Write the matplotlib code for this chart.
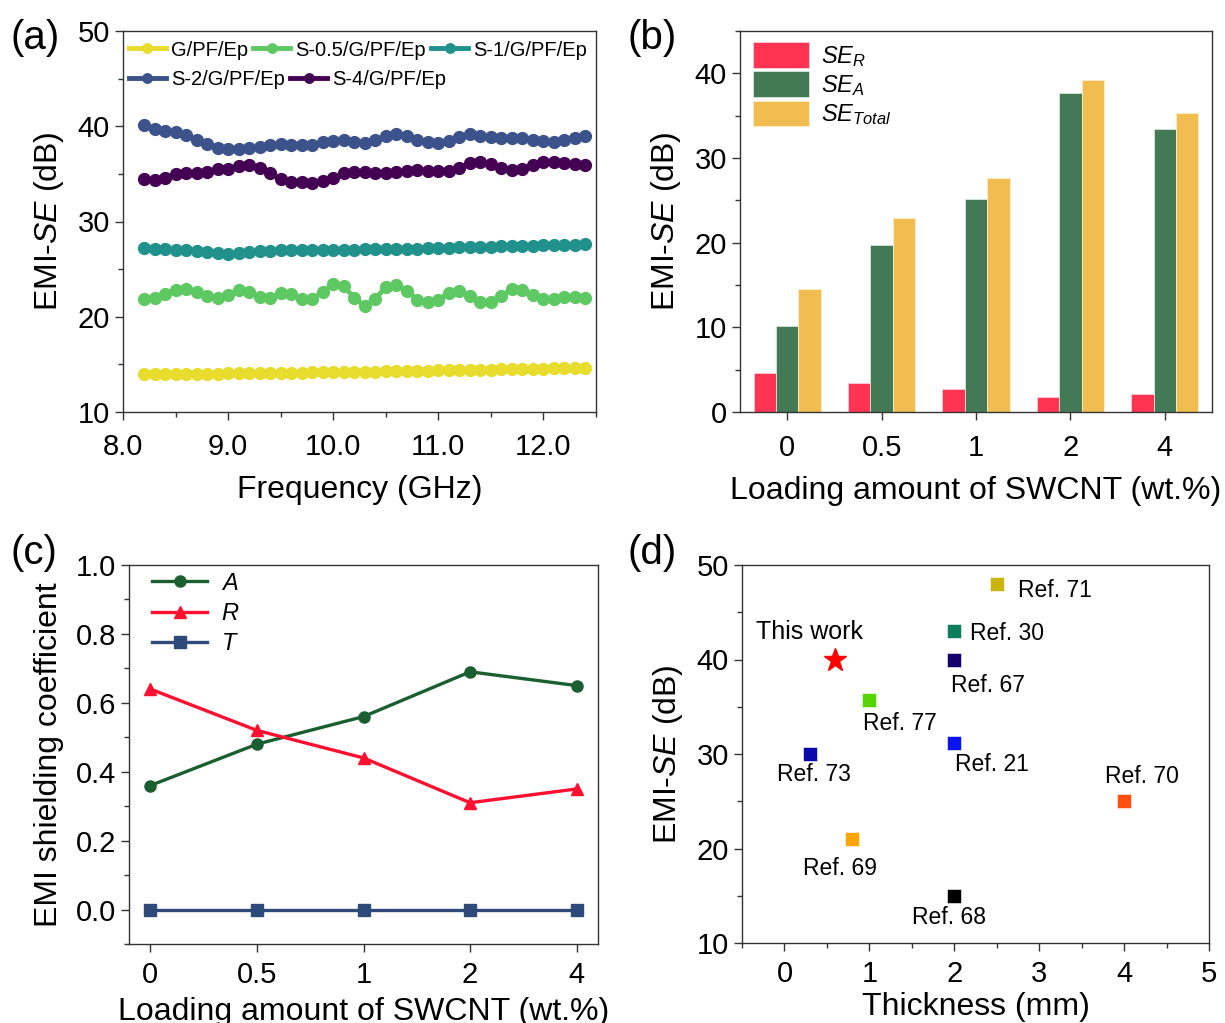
import numpy as np
import matplotlib
matplotlib.use('Agg')
import matplotlib.pyplot as plt
from matplotlib.ticker import MultipleLocator, FormatStrFormatter

plt.rcParams['font.family'] = ['Liberation Sans', 'DejaVu Sans']
plt.rcParams['mathtext.fontset'] = 'custom'
plt.rcParams['mathtext.rm'] = 'Liberation Sans'
plt.rcParams['mathtext.it'] = 'Liberation Sans:italic'

# ---- (a) EMI SE vs frequency ----
freq = np.linspace(8.2, 12.4, 43)
se_g = [13.95, 13.96, 13.97, 13.98, 13.99, 14.00, 14.02, 14.04, 14.05, 14.06,
        14.07, 14.08, 14.10, 14.11, 14.12, 14.14, 14.15, 14.17, 14.19, 14.20,
        14.22, 14.23, 14.25, 14.27, 14.28, 14.30, 14.32, 14.34, 14.36, 14.38,
        14.40, 14.41, 14.43, 14.45, 14.47, 14.49, 14.51, 14.53, 14.55, 14.57,
        14.59, 14.61, 14.62]
se_s05 = [21.9, 22.0, 22.4, 22.85, 22.9, 22.6, 22.2, 21.95, 22.3, 22.85,
          22.6, 22.05, 21.95, 22.45, 22.4, 21.9, 21.9, 22.6, 23.45, 23.2,
          22.0, 21.1, 21.9, 23.1, 23.35, 22.7, 21.8, 21.55, 21.8, 22.5,
          22.75, 22.2, 21.5, 21.6, 22.2, 22.9, 22.85, 22.3, 21.85, 21.9,
          22.1, 22.1, 21.95]
se_s1 = [27.2, 27.15, 27.1, 27.05, 27.0, 26.95, 26.85, 26.7, 26.6, 26.65,
         26.8, 26.9, 26.95, 27.0, 27.05, 27.05, 27.05, 27.05, 27.05, 27.05,
         27.05, 27.1, 27.1, 27.1, 27.1, 27.15, 27.15, 27.2, 27.2, 27.25,
         27.3, 27.3, 27.35, 27.35, 27.4, 27.4, 27.45, 27.45, 27.5, 27.5,
         27.55, 27.55, 27.6]
se_s2 = [40.1, 39.7, 39.5, 39.4, 39.05, 38.55, 38.1, 37.75, 37.6, 37.65,
         37.75, 37.8, 38.0, 38.1, 38.05, 38.0, 38.0, 38.3, 38.45, 38.6,
         38.35, 38.2, 38.55, 38.95, 39.15, 38.95, 38.55, 38.3, 38.2, 38.45,
         38.9, 39.15, 38.95, 38.9, 38.8, 38.8, 38.8, 38.6, 38.45, 38.35,
         38.55, 38.8, 38.95]
se_s4 = [34.5, 34.35, 34.6, 34.95, 35.1, 35.1, 35.2, 35.5, 35.55, 35.8,
         35.9, 35.65, 35.1, 34.45, 34.15, 34.1, 34.0, 34.25, 34.6, 35.05,
         35.2, 35.2, 35.05, 35.1, 35.2, 35.3, 35.4, 35.3, 35.3, 35.3,
         35.65, 36.1, 36.2, 36.0, 35.65, 35.4, 35.55, 35.9, 36.2, 36.25,
         36.1, 36.0, 35.95]
a_names = ['G/PF/Ep', 'S-0.5/G/PF/Ep', 'S-1/G/PF/Ep', 'S-2/G/PF/Ep', 'S-4/G/PF/Ep']
a_colors = ['#e8dc2c', '#5ec962', '#21918c', '#3b528b', '#440154']

# ---- (b) SE components ----
loading = ['0', '0.5', '1', '2', '4']
se_r = [4.6, 3.4, 2.7, 1.8, 2.1]
se_a = [10.2, 19.7, 25.1, 37.7, 33.4]
se_t = [14.5, 22.9, 27.6, 39.2, 35.3]

# ---- (c) coefficients ----
coef_a = [0.36, 0.48, 0.56, 0.69, 0.65]
coef_r = [0.64, 0.52, 0.44, 0.31, 0.35]
coef_t = [0.0, 0.0, 0.0, 0.0, 0.0]

# ---- (d) comparison ----
ref_names = ['Ref. 71', 'Ref. 30', 'Ref. 67', 'Ref. 77', 'Ref. 21',
             'Ref. 73', 'Ref. 70', 'Ref. 69', 'Ref. 68']
ref_thick = [2.5, 2.0, 2.0, 1.0, 2.0, 0.3, 4.0, 0.8, 2.0]
ref_se = [48, 43, 40, 35.7, 31.2, 30, 25, 21, 15]
ref_colors = ['#c8b40a', '#0a7f5a', '#16006e', '#55d400', '#0a14f0',
              '#0a0aaa', '#ff5010', '#ffa500', '#000000']
this_thick, this_se = 0.6, 40
# label offsets in pixels (dx, dy) and alignment
ref_offsets = [(21, -7, 'left'), (16, -2, 'left'), (34, -26, 'center'),
               (31, -23, 'center'), (38, -22, 'center'), (4, -21, 'center'),
               (18, 25, 'center'), (-12, -29, 'center'), (-5, -22, 'center')]

TICK = 21
LAB = 23
SPINE = '#333333'


def style(ax):
    for s in ax.spines.values():
        s.set_color(SPINE)
        s.set_linewidth(1.0)
    ax.tick_params(which='both', direction='out', top=False, right=False,
                   labelsize=TICK, color=SPINE)
    ax.tick_params(which='major', length=6, width=1.0)
    ax.tick_params(which='minor', length=3.5, width=1.0)


fig = plt.figure(figsize=(12.25, 10.23), dpi=100)
W, H = 1225, 1023


def box(l, t, r, b):
    return [l / W, 1 - b / H, (r - l) / W, (b - t) / H]


# (a)
ax = fig.add_axes(box(123, 31, 596, 412))
series = [se_g, se_s05, se_s1, se_s2, se_s4]
handles = []
for y, c, n in zip(series, a_colors, a_names):
    h, = ax.plot(freq, y, '-o', color=c, lw=3.5, ms=8.5, mec=c, label=n)
    handles.append(h)
ax.set_xlim(8.0, 12.5)
ax.set_ylim(10, 50)
ax.xaxis.set_major_locator(MultipleLocator(1))
ax.xaxis.set_minor_locator(MultipleLocator(0.5))
ax.xaxis.set_major_formatter(FormatStrFormatter('%.1f'))
ax.yaxis.set_major_locator(MultipleLocator(10))
ax.yaxis.set_minor_locator(MultipleLocator(5))
style(ax)
ax.tick_params(axis='x', pad=9)
ax.set_xlabel('Frequency (GHz)', fontsize=LAB, labelpad=10)
ax.set_ylabel(r'EMI-$\it{SE}$ (dB)', fontsize=LAB, labelpad=8)
leg_kw = dict(frameon=False, fontsize=14.5, handlelength=1.85, handletextpad=0.25,
              columnspacing=0.25, borderaxespad=0, borderpad=0, markerscale=0.8)
leg1 = ax.legend(handles[:3], a_names[:3], ncol=3, loc='upper left',
                 bbox_to_anchor=(0.012, 0.975), **leg_kw)
ax.add_artist(leg1)
ax.legend(handles[3:], a_names[3:], ncol=2, loc='upper left',
          bbox_to_anchor=(0.012, 0.897), **leg_kw)
fig.text(10 / W, 1 - 38 / H, '(a)', fontsize=29, va='center', ha='left')

# (b)
ax = fig.add_axes(box(740, 31, 1212, 412))
xb = np.arange(len(loading))
bw = 0.237
ax.bar(xb - bw, se_r, bw, color='#ff3352', edgecolor='#ffd0d8', lw=0.6, label=r'$SE_R$')
ax.bar(xb, se_a, bw, color='#437a55', edgecolor='#d8e8dc', lw=0.6, label=r'$SE_A$')
ax.bar(xb + bw, se_t, bw, color='#f1bc50', edgecolor='#fff0c8', lw=0.6,
       label=r'$SE_{Total}$')
ax.set_xlim(-0.5, 4.5)
ax.set_ylim(0, 45)
ax.set_xticks(xb)
ax.set_xticklabels(loading)
ax.yaxis.set_major_locator(MultipleLocator(10))
ax.yaxis.set_minor_locator(MultipleLocator(5))
style(ax)
ax.tick_params(axis='x', pad=10)
ax.set_xlabel('Loading amount of SWCNT (wt.%)', fontsize=LAB, labelpad=10)
ax.set_ylabel(r'EMI-$\it{SE}$ (dB)', fontsize=LAB, labelpad=8)
ax.legend(loc='upper left', bbox_to_anchor=(0.027, 0.97), frameon=False,
          fontsize=17, handlelength=2.4, handleheight=1.3, labelspacing=0.1,
          handletextpad=0.5, borderaxespad=0, borderpad=0)
fig.text(628 / W, 1 - 38 / H, '(b)', fontsize=29, va='center', ha='left')

# (c)
ax = fig.add_axes(box(129, 565, 598, 944))
xc = np.arange(len(loading))
ax.plot(xc, coef_a, '-o', color='#1b5e30', lw=2.4, ms=8, label=r'$A$')
ax.plot(xc, coef_r, '-^', color='#ff1030', lw=2.4, ms=9, label=r'$R$')
ax.plot(xc, coef_t, '-s', color='#2e4a78', lw=2.4, ms=8, label=r'$T$')
ax.set_xlim(-0.2, 4.2)
ax.set_ylim(-0.1, 1.0)
ax.set_xticks(xc)
ax.set_xticklabels(loading)
ax.yaxis.set_major_locator(MultipleLocator(0.2))
ax.yaxis.set_minor_locator(MultipleLocator(0.1))
ax.yaxis.set_major_formatter(FormatStrFormatter('%.1f'))
style(ax)
ax.tick_params(axis='x', pad=6)
ax.set_xlabel('Loading amount of SWCNT (wt.%)', fontsize=LAB, labelpad=6)
ax.set_ylabel('EMI shielding coefficient', fontsize=LAB, labelpad=8)
ax.legend(loc='upper left', bbox_to_anchor=(0.05, 0.98), frameon=False,
          fontsize=17, handlelength=2.3, labelspacing=0.35, handletextpad=0.6,
          borderaxespad=0, borderpad=0)
fig.text(10 / W, 1 - 553 / H, '(c)', fontsize=29, va='center', ha='left')

# (d)
ax = fig.add_axes(box(742, 565, 1209, 943))
for name, x, y, c, (dx, dy, ha) in zip(ref_names, ref_thick, ref_se, ref_colors, ref_offsets):
    ax.plot(x, y, 's', color=c, ms=10, mec='white', mew=0.4)
    ax.annotate(name, (x, y), xytext=(dx, dy), textcoords='offset pixels',
                ha=ha, va='center', fontsize=16.5)
ax.plot(this_thick, this_se, '*', color='#ff0000', ms=17)
ax.annotate('This work', (this_thick, this_se), xytext=(-26, 27),
            textcoords='offset pixels', ha='center', va='center', fontsize=18)
ax.set_xlim(-0.5, 5)
ax.set_ylim(10, 50)
ax.xaxis.set_major_locator(MultipleLocator(1))
ax.xaxis.set_minor_locator(MultipleLocator(0.5))
ax.yaxis.set_major_locator(MultipleLocator(10))
ax.yaxis.set_minor_locator(MultipleLocator(5))
style(ax)
ax.tick_params(axis='x', pad=6)
ax.set_xlabel('Thickness (mm)', fontsize=LAB, labelpad=3)
ax.set_ylabel(r'EMI-$\it{SE}$ (dB)', fontsize=LAB, labelpad=8)
fig.text(628 / W, 1 - 553 / H, '(d)', fontsize=29, va='center', ha='left')

fig.savefig('out.png', dpi=100)
